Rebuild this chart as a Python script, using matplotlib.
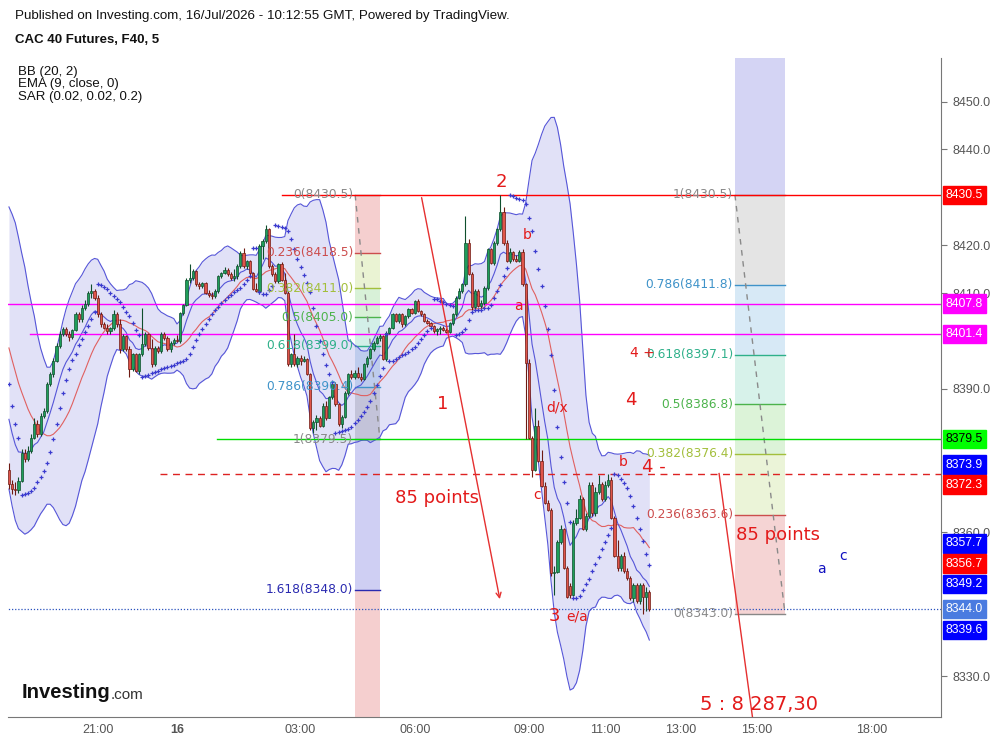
import numpy as np
import pandas as pd
import matplotlib
matplotlib.use('Agg')
import matplotlib.pyplot as plt

# ---------------- data (5-min candles, CAC 40 futures) ----------------
opens = [8373.0, 8370.2, 8369.0, 8368.8, 8370.8, 8376.5, 8375.4, 8377.1, 8379.8, 8382.7,
         8380.6, 8384.4, 8385.4, 8391.0, 8393.0, 8395.8, 8399.0, 8401.5, 8402.5, 8401.5,
         8400.8, 8402.2, 8405.6, 8404.5, 8406.9, 8407.7, 8410.0, 8410.4, 8409.0, 8405.6,
         8403.5, 8402.8, 8402.0, 8402.7, 8405.6, 8403.5, 8398.3, 8401.0, 8398.3, 8394.1,
         8397.2, 8393.8, 8397.2, 8399.3, 8401.4, 8398.6, 8395.1, 8398.6, 8397.9, 8401.4,
         8400.7, 8398.3, 8399.6, 8400.3, 8400.0, 8405.9, 8407.6, 8412.8, 8413.2, 8414.6,
         8411.8, 8411.4, 8412.2, 8410.1, 8409.7, 8409.4, 8410.4, 8413.5, 8414.2, 8414.9,
         8413.9, 8413.2, 8413.5, 8415.6, 8418.4, 8415.6, 8416.7, 8414.2, 8410.8, 8410.4,
         8419.8, 8420.8, 8423.3, 8415.6, 8413.9, 8412.5, 8416.0, 8412.8, 8410.1, 8395.1,
         8397.2, 8395.1, 8396.5, 8395.8, 8396.2, 8393.1, 8381.9, 8383.0, 8384.0, 8382.3,
         8386.5, 8384.0, 8388.2, 8391.0, 8386.8, 8382.6, 8384.2, 8389.2, 8393.1, 8392.4,
         8393.4, 8392.5, 8392.0, 8395.1, 8396.5, 8398.3, 8399.6, 8400.7, 8401.0, 8396.2,
         8401.7, 8402.8, 8405.6, 8404.2, 8405.6, 8403.5, 8405.2, 8406.6, 8405.9, 8408.3,
         8406.3, 8405.6, 8404.2, 8403.8, 8403.1, 8402.1, 8402.4, 8402.8, 8402.2, 8401.9,
         8403.8, 8405.6, 8409.0, 8410.4, 8411.8, 8420.4, 8414.0, 8407.0, 8410.4, 8407.3,
         8408.0, 8411.0, 8419.2, 8416.2, 8420.4, 8423.3, 8427.0, 8420.4, 8416.7, 8418.5,
         8417.1, 8416.8, 8418.5, 8411.9, 8395.4, 8379.8, 8373.0, 8382.3, 8375.0, 8369.8,
         8366.2, 8364.6, 8351.5, 8351.8, 8358.0, 8360.8, 8352.5, 8348.8, 8347.0, 8362.0,
         8363.0, 8367.0, 8360.8, 8363.5, 8370.0, 8364.0, 8368.5, 8370.2, 8367.0, 8370.0,
         8371.0, 8363.1, 8355.1, 8352.5, 8355.0, 8352.0, 8350.4, 8346.3, 8349.0, 8345.6,
         8349.0, 8346.5, 8347.5]
highs = [8374.5, 8371.0, 8370.5, 8371.5, 8377.5, 8377.5, 8378.0, 8380.5, 8384.0, 8383.5,
         8385.0, 8386.0, 8391.5, 8393.5, 8396.5, 8399.5, 8402.0, 8403.0, 8403.0, 8402.0,
         8402.5, 8406.0, 8406.0, 8407.5, 8408.5, 8410.5, 8411.8, 8410.8, 8409.5, 8406.0,
         8404.0, 8403.5, 8403.0, 8406.5, 8406.0, 8404.5, 8401.5, 8401.2, 8399.0, 8397.5,
         8397.5, 8397.5, 8406.9, 8401.8, 8401.6, 8400.5, 8398.9, 8399.0, 8401.8, 8401.8,
         8401.0, 8400.0, 8400.7, 8401.2, 8406.0, 8407.8, 8413.2, 8416.0, 8415.0, 8414.8,
         8412.3, 8412.4, 8412.4, 8410.6, 8410.2, 8410.8, 8413.8, 8414.5, 8415.5, 8415.2,
         8414.5, 8415.0, 8416.0, 8418.8, 8419.5, 8417.0, 8417.0, 8414.5, 8412.0, 8420.2,
         8421.2, 8424.3, 8423.5, 8416.0, 8414.3, 8416.3, 8416.5, 8414.2, 8410.4, 8397.5,
         8401.4, 8396.8, 8397.0, 8396.8, 8396.5, 8393.4, 8383.5, 8384.5, 8384.3, 8387.0,
         8387.5, 8388.5, 8391.3, 8391.4, 8387.0, 8384.5, 8389.5, 8393.4, 8394.0, 8394.0,
         8394.5, 8393.2, 8395.4, 8396.8, 8398.6, 8399.9, 8401.0, 8401.5, 8401.2, 8402.0,
         8403.0, 8405.9, 8405.8, 8405.9, 8405.8, 8405.5, 8406.9, 8406.9, 8408.6, 8408.8,
         8406.5, 8405.8, 8404.5, 8404.0, 8403.3, 8402.8, 8403.1, 8403.2, 8402.6, 8404.0,
         8405.9, 8409.4, 8411.0, 8412.0, 8426.0, 8421.2, 8414.5, 8410.8, 8410.8, 8408.5,
         8411.5, 8419.5, 8419.5, 8420.8, 8423.6, 8430.5, 8428.0, 8421.0, 8419.5, 8418.8,
         8418.0, 8419.0, 8419.3, 8412.2, 8396.2, 8380.2, 8386.0, 8383.5, 8377.3, 8370.5,
         8366.8, 8365.2, 8353.0, 8358.5, 8361.5, 8361.0, 8353.0, 8349.5, 8362.5, 8365.0,
         8367.8, 8367.5, 8364.0, 8370.5, 8370.5, 8369.5, 8372.0, 8370.5, 8370.8, 8372.3,
         8371.5, 8363.5, 8358.5, 8355.5, 8356.0, 8352.5, 8351.0, 8349.5, 8349.5, 8349.5,
         8349.5, 8348.5, 8348.0]
lows = [8369.0, 8368.0, 8367.8, 8368.3, 8370.5, 8374.8, 8375.0, 8376.5, 8379.5, 8380.0,
        8380.2, 8384.0, 8385.0, 8390.5, 8392.5, 8395.5, 8398.5, 8401.0, 8401.0, 8400.0,
        8400.5, 8402.0, 8404.0, 8404.0, 8406.5, 8407.3, 8409.0, 8408.5, 8405.0, 8403.0,
        8402.5, 8401.5, 8401.5, 8402.3, 8403.0, 8397.5, 8397.8, 8397.8, 8392.4, 8393.8,
        8393.5, 8393.0, 8396.8, 8399.0, 8398.2, 8394.5, 8394.8, 8397.5, 8397.5, 8400.3,
        8397.8, 8397.6, 8399.2, 8399.8, 8399.5, 8405.5, 8407.2, 8412.2, 8412.8, 8411.5,
        8410.8, 8411.0, 8409.8, 8409.2, 8408.8, 8409.0, 8410.0, 8413.2, 8414.0, 8413.6,
        8412.8, 8412.5, 8413.0, 8415.2, 8415.3, 8415.0, 8413.8, 8410.6, 8410.2, 8409.8,
        8417.2, 8420.5, 8415.3, 8413.5, 8412.2, 8412.2, 8412.5, 8409.8, 8394.8, 8394.5,
        8394.8, 8394.6, 8395.0, 8395.5, 8392.8, 8381.5, 8380.8, 8381.5, 8382.0, 8382.0,
        8383.5, 8383.8, 8387.8, 8386.5, 8382.3, 8381.8, 8384.0, 8388.8, 8392.0, 8392.0,
        8392.2, 8391.6, 8391.8, 8394.6, 8396.2, 8397.8, 8399.3, 8400.0, 8396.0, 8395.8,
        8401.4, 8402.4, 8404.0, 8403.8, 8403.0, 8403.2, 8404.8, 8405.6, 8405.6, 8406.0,
        8405.2, 8404.0, 8403.5, 8402.9, 8401.7, 8401.3, 8401.5, 8402.0, 8401.6, 8401.7,
        8403.3, 8405.2, 8408.7, 8410.0, 8411.5, 8413.8, 8406.5, 8406.5, 8407.0, 8406.8,
        8407.5, 8410.6, 8416.0, 8415.8, 8420.0, 8423.0, 8420.0, 8416.4, 8416.3, 8416.8,
        8416.5, 8416.5, 8411.5, 8379.5, 8379.6, 8371.5, 8372.8, 8374.8, 8369.5, 8366.0,
        8364.4, 8351.0, 8346.9, 8351.5, 8357.5, 8352.3, 8346.3, 8346.4, 8346.8, 8361.5,
        8362.8, 8360.5, 8360.3, 8363.0, 8363.5, 8363.5, 8368.0, 8366.5, 8366.5, 8369.5,
        8362.8, 8354.8, 8352.0, 8352.0, 8351.5, 8350.0, 8345.8, 8345.5, 8345.3, 8345.0,
        8343.0, 8343.5, 8343.5]
closes = [8370.2, 8369.0, 8368.8, 8370.8, 8376.5, 8375.4, 8377.1, 8379.8, 8382.7, 8380.6,
          8384.4, 8385.4, 8391.0, 8393.0, 8395.8, 8399.0, 8401.5, 8402.5, 8401.5, 8400.8,
          8402.2, 8405.6, 8404.5, 8406.9, 8407.7, 8410.0, 8410.4, 8409.0, 8405.6, 8403.5,
          8402.8, 8402.0, 8402.7, 8405.6, 8403.5, 8398.3, 8401.0, 8398.3, 8394.1, 8397.2,
          8393.8, 8397.2, 8399.3, 8401.4, 8398.6, 8395.1, 8398.6, 8397.9, 8401.4, 8400.7,
          8398.3, 8399.6, 8400.3, 8400.0, 8405.9, 8407.6, 8412.8, 8413.2, 8414.6, 8411.8,
          8411.4, 8412.2, 8410.1, 8409.7, 8409.4, 8410.4, 8413.5, 8414.2, 8414.9, 8413.9,
          8413.2, 8413.5, 8415.6, 8418.4, 8415.6, 8416.7, 8414.2, 8410.8, 8410.4, 8419.8,
          8420.8, 8423.3, 8415.6, 8413.9, 8412.5, 8416.0, 8412.8, 8410.1, 8395.1, 8397.2,
          8395.1, 8396.5, 8395.8, 8396.2, 8393.1, 8381.9, 8383.0, 8384.0, 8382.3, 8386.5,
          8384.0, 8388.2, 8391.0, 8386.8, 8382.6, 8384.2, 8389.2, 8393.1, 8392.4, 8393.4,
          8392.5, 8392.0, 8395.1, 8396.5, 8398.3, 8399.6, 8400.7, 8401.0, 8396.2, 8401.7,
          8402.8, 8405.6, 8404.2, 8405.6, 8403.5, 8405.2, 8406.6, 8405.9, 8408.3, 8406.3,
          8405.6, 8404.2, 8403.8, 8403.1, 8402.1, 8402.4, 8402.8, 8402.2, 8401.9, 8403.8,
          8405.6, 8409.0, 8410.4, 8411.8, 8420.4, 8414.0, 8407.0, 8410.4, 8407.3, 8408.0,
          8411.0, 8419.2, 8416.2, 8420.4, 8423.3, 8427.0, 8420.4, 8416.7, 8418.5, 8417.1,
          8416.8, 8418.5, 8411.9, 8395.4, 8379.8, 8373.0, 8382.3, 8375.0, 8369.8, 8366.2,
          8364.6, 8351.5, 8351.8, 8358.0, 8360.8, 8352.5, 8346.6, 8347.0, 8362.0, 8363.0,
          8367.0, 8360.8, 8363.5, 8370.0, 8364.0, 8368.5, 8370.2, 8367.0, 8370.0, 8371.0,
          8363.1, 8355.1, 8352.5, 8355.0, 8352.0, 8350.4, 8346.3, 8349.0, 8345.6, 8349.0,
          8346.5, 8347.5, 8344.0]
# closes before the first visible bar (indicator warm-up, inferred from the band values at the left edge)
prior_closes = [8419.5, 8417.0, 8418.2, 8414.5, 8411.0, 8412.3, 8408.0, 8404.6, 8405.8, 8401.2,
                8397.5, 8398.4, 8393.0, 8389.6, 8386.0, 8387.2, 8382.5, 8378.8, 8375.3]
# parabolic SAR state at the first visible bar (downtrend)
sar_start, sar_ep_start, sar_af_start = 8391.0, 8368.0, 0.2

time_ticks = [28, 53, 92, 128, 164, 188, 212, 236, 272]
time_labels = ['21:00', '16', '03:00', '06:00', '09:00', '11:00', '13:00', '15:00', '18:00']
# axis prices whose labels are not hidden behind the price boxes
price_ticks = [8330, 8360, 8390, 8410, 8420, 8440, 8450]

fib_ratios = [0, 0.236, 0.382, 0.5, 0.618, 0.786, 1, 1.618]
left_fib = dict(x0=109.2, x1=117.0, p_start=8430.5, p_end=8379.5)
right_fib = dict(x0=229.0, x1=244.8, p_start=8343.0, p_end=8430.5)

hlines = [(8430.5, 86, '#ff0000', '-'), (8407.8, -1, '#ff00ff', '-'), (8401.4, 6.5, '#ff00ff', '-'),
          (8379.5, 65.5, '#00dd00', '-'), (8372.3, 47.5, '#dd2222', '--')]
last_price = 8344.0

box_values = [8430.5, 8407.8, 8401.4, 8379.5, 8373.9, 8372.3, 8357.7, 8356.7, 8349.2, 8344.0, 8339.6]
box_colors = ['#ff0000', '#ff00ff', '#ff00ff', '#00ff00', '#0000ff', '#ff0000', '#0000ff', '#ff0000',
              '#0000ff', '#4a7be0', '#0000ff']
box_nudge = [0, 0, 0, 0, 1, -8, 0, -11, 0, 0, 0]   # points, to avoid overlap as on the chart

wave_labels = [('2', 155.2, 8433.2, 13), ('1', 136.9, 8386.8, 13), ('b', 163.4, 8422.1, 10),
               ('a', 160.6, 8407.3, 10), ('d/x', 172.9, 8386.2, 10), ('c', 166.6, 8367.8, 10),
               ('3', 172.2, 8342.5, 13), ('e/a', 179.2, 8342.5, 10), ('4 +', 199.8, 8397.5, 10),
               ('4', 196.2, 8387.7, 13), ('b', 193.7, 8374.7, 10), ('4 -', 203.5, 8373.7, 13),
               ('85 points', 135.0, 8367.1, 13), ('85 points', 242.6, 8359.5, 13),
               ('5 : 8 287,30', 236.6, 8324.0, 14)]
blue_labels = [('a', 256.2, 8352.3), ('c', 263.1, 8355.0)]
arrow_1 = ((130.0, 8430.5), (155.0, 8345.5))
line_5 = ((224.0, 8372.3), (241.6, 8287.3))

# ---------------- indicators ----------------
n = len(closes)
O, H, L, C = map(np.array, (opens, highs, lows, closes))
x = np.arange(n)
allc = pd.Series(prior_closes + closes)
k = len(prior_closes)
basis = allc.rolling(20).mean().to_numpy()[k:]
sd = allc.rolling(20).std(ddof=0).to_numpy()[k:]
upper, lower = basis + 2 * sd, basis - 2 * sd
ema = allc.ewm(span=9, adjust=False).mean().to_numpy()[k:]

def psar(h, l, sar0, ep0, af0, step=0.02, amax=0.2):
    out = np.zeros(len(h))
    trend, sar, ep, af = -1, sar0, ep0, af0
    for i in range(len(h)):
        if i > 0:
            sar = sar + af * (ep - sar)
            if trend == 1:
                sar = min(sar, l[i - 1], l[i - 2] if i > 1 else l[i - 1])
            else:
                sar = max(sar, h[i - 1], h[i - 2] if i > 1 else h[i - 1])
        if trend == 1 and l[i] < sar:
            trend, sar, ep, af = -1, ep, l[i], step
        elif trend == -1 and h[i] > sar:
            trend, sar, ep, af = 1, ep, h[i], step
        else:
            if trend == 1 and h[i] > ep:
                ep, af = h[i], min(af + step, amax)
            elif trend == -1 and l[i] < ep:
                ep, af = l[i], min(af + step, amax)
        out[i] = sar
    return out

sar = psar(H, L, sar_start, sar_ep_start, sar_af_start)

# ---------------- figure ----------------
plt.rcParams['font.family'] = ['Liberation Sans', 'DejaVu Sans']
fig = plt.figure(figsize=(9.93, 7.41), dpi=100)
ax = fig.add_axes([8 / 993, 24 / 741, 933 / 993, 659 / 741])
XMIN, XMAX = -0.3, 294.0
YMIN, YMAX = 8321.45, 8459.1
ax.set_xlim(XMIN, XMAX)
ax.set_ylim(YMIN, YMAX)

# fib bands
left_band_cols = ['#f5cfcf', '#eaf3d3', '#d8f1d8', '#d3efe8', '#d3e5f3', '#dadada', '#cfcff3', '#f5cfcf']
right_band_cols = ['#f5d4d4', '#ebf4d8', '#dcf3d8', '#d7f2ea', '#d7e9f6', '#e4e4e4', '#d4d4f4']
level_cols = {0: '#888888', 0.236: '#cc4d4d', 0.382: '#a3bf3c', 0.5: '#4cb34c', 0.618: '#2fb08a',
              0.786: '#3f93c9', 1: '#888888', 1.618: '#2a2ab0'}

def fib_price(f, r):
    return f['p_start'] + r * (f['p_end'] - f['p_start'])

lratios = fib_ratios + [2.618]
for j in range(len(lratios) - 1):
    a, b = fib_price(left_fib, lratios[j]), fib_price(left_fib, lratios[j + 1])
    ax.fill_between([left_fib['x0'], left_fib['x1']], a, b, color=left_band_cols[j], lw=0, zorder=0.5)
for j in range(len(fib_ratios) - 1):
    a, b = fib_price(right_fib, fib_ratios[j]), fib_price(right_fib, fib_ratios[j + 1])
    ax.fill_between([right_fib['x0'], right_fib['x1']], a, b, color=right_band_cols[j], lw=0, zorder=0.5)

for f in (left_fib, right_fib):
    for r in fib_ratios:
        if f is right_fib and r == 1.618:
            continue
        p = fib_price(f, r)
        col = level_cols[r]
        ax.plot([f['x0'], f['x1']], [p, p], color=col, lw=1, zorder=1.6)
        lab = ('%g' % r) + '(%.1f)' % p
        ax.text(f['x0'] - 0.6, p, lab, color=col, fontsize=8.8, ha='right', va='center',
                family='DejaVu Sans', zorder=6)
    ax.plot([f['x0'], f['x1']], [fib_price(f, 0), fib_price(f, 1)] if f is left_fib
            else [fib_price(f, 1), fib_price(f, 0)], color='#8a8a8a', lw=1, ls=(0, (4, 4)), zorder=1.7)

# Bollinger bands
ax.fill_between(x, lower, upper, color=(0.42, 0.42, 0.85), alpha=0.2, lw=0, zorder=1)
ax.plot(x, upper, color='#5656d8', lw=0.8, zorder=2)
ax.plot(x, lower, color='#5656d8', lw=0.8, zorder=2)
ax.plot(x, basis, color='#e06060', lw=0.8, zorder=2)
ax.plot(x, ema, color='#5656d8', lw=0.8, zorder=2)

# horizontal lines
for p, xs, col, ls in hlines:
    ax.plot([xs, XMAX + 5], [p, p], color=col, lw=1, ls=(0, (5, 4)) if ls == '--' else '-', zorder=2.2)
ax.plot([XMIN - 5, XMAX + 5], [last_price, last_price], color='#2a52be', lw=0.9, ls=(0, (1, 1.5)), zorder=2.2)

# candles
up = C >= O
gcol, gedge = '#1e9e5a', '#0f4f2d'
rcol, redge = '#e0554a', '#6e1a12'
bottoms = np.minimum(O, C)
heights = np.maximum(np.abs(C - O), 0.15)
ax.vlines(x[up], L[up], H[up], color=gedge, lw=0.8, zorder=3)
ax.vlines(x[~up], L[~up], H[~up], color=redge, lw=0.8, zorder=3)
ax.bar(x[up], heights[up], bottom=bottoms[up], width=0.7, color=gcol, edgecolor=gedge, lw=0.5, zorder=3.1)
ax.bar(x[~up], heights[~up], bottom=bottoms[~up], width=0.7, color=rcol, edgecolor=redge, lw=0.5, zorder=3.1)

# SAR
ax.plot(x, sar, ls='none', marker='+', ms=3.2, mew=0.9, color='#3b3bcf', zorder=3.5)

# annotations
ax.annotate('', xy=arrow_1[1], xytext=arrow_1[0],
            arrowprops=dict(arrowstyle='->', color='#e53030', lw=1, mutation_scale=9), zorder=4)
ax.plot([line_5[0][0], line_5[1][0]], [line_5[0][1], line_5[1][1]], color='#e53030', lw=1, zorder=4)
for t, xi, yi, fs in wave_labels:
    ax.text(xi, yi, t, color='#e31a1a', fontsize=fs, ha='center', va='center', family='DejaVu Sans', zorder=6)
for t, xi, yi in blue_labels:
    ax.text(xi, yi, t, color='#1010c0', fontsize=10, ha='center', va='center', family='DejaVu Sans', zorder=6)

# axes styling
for s in ('left', 'top'):
    ax.spines[s].set_visible(False)
for s in ('right', 'bottom'):
    ax.spines[s].set_color('#777777')
    ax.spines[s].set_linewidth(0.8)
ax.yaxis.tick_right()
ax.set_yticks(price_ticks)
ax.set_yticklabels(['%.1f' % p for p in price_ticks])
ax.set_xticks(time_ticks)
ax.set_xticklabels(time_labels)
for lab in ax.get_xticklabels():
    if lab.get_text() == '16':
        lab.set_fontweight('bold')
ax.tick_params(axis='both', colors='#777777', labelcolor='#555555', labelsize=9, width=0.8)
ax.tick_params(axis='y', length=4, pad=4)
ax.tick_params(axis='x', length=0, pad=5)

for v, col, nd in zip(box_values, box_colors, box_nudge):
    ax.annotate('%.1f' % v, xy=(1.0, v), xycoords=('axes fraction', 'data'), xytext=(3.5, nd),
                textcoords='offset points', ha='left', va='center', fontsize=8.8,
                color='black' if col == '#00ff00' else 'white',
                bbox=dict(boxstyle='square,pad=0.26', fc=col, ec=col), annotation_clip=False, zorder=10)

# header and legend text
fig.text(15 / 993, 1 - 16 / 741, 'Published on Investing.com, 16/Jul/2026 - 10:12:55 GMT, Powered by TradingView.',
         fontsize=9.6, va='center', ha='left', color='#111111')
fig.text(15 / 993, 1 - 40 / 741, 'CAC 40 Futures, F40, 5', fontsize=9.5, fontweight='bold', va='center',
         ha='left', color='#111111')
for j, t in enumerate(['BB (20, 2)', 'EMA (9, close, 0)', 'SAR (0.02, 0.02, 0.2)']):
    fig.text(18 / 993, 1 - (72 + 12.5 * j) / 741, t, fontsize=9.5, va='center', ha='left', color='#111111')
fig.text(22 / 993, 1 - 693 / 741, 'Investing', fontsize=14.6, fontweight='bold', va='center', ha='left', color='#111111')
fig.text(111 / 993, 1 - 695 / 741, '.com', fontsize=11, va='center', ha='left', color='#333333')

fig.savefig('out.png', dpi=100)
